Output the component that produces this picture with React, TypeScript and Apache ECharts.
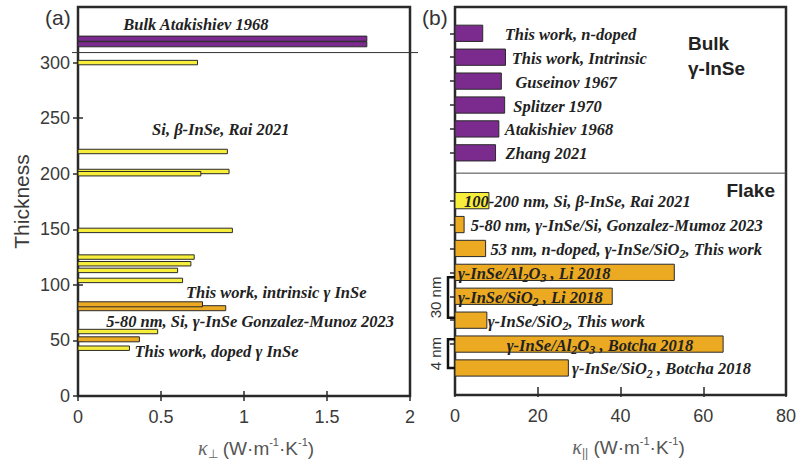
import React, { useEffect, useRef } from "react";
import * as echarts from "echarts";

// ---------- Data: panel (a) ----------
const leftThickness = [321.5, 316.5, 300, 220, 202, 200, 149, 125, 119, 113, 104, 79, 82.5, 58, 51, 43];
const leftKappa = [1.74, 1.74, 0.72, 0.9, 0.91, 0.74, 0.93, 0.7, 0.68, 0.6, 0.63, 0.89, 0.75, 0.48, 0.37, 0.31];
const leftKind = ["bulk", "bulk", "yellow", "yellow", "yellow", "yellow", "yellow", "yellow", "yellow", "yellow", "yellow", "orange", "orange", "yellow", "orange", "yellow"];
const leftSeparator = 309;
const leftNotes = [
  "Bulk Atakishiev 1968",
  "Si, β-InSe, Rai 2021",
  "This work, intrinsic γ InSe",
  "5-80 nm, Si, γ-InSe Gonzalez-Munoz 2023",
  "This work, doped γ InSe",
];
const leftNoteAt = [[0.71, 334], [0.86, 240], [0.65, 93], [0.17, 67], [0.34, 40]];
const leftNoteAlign = ["center", "center", "left", "left", "left"];
const leftXTicks = [0, 0.5, 1, 1.5, 2];
const leftYTicks = [0, 50, 100, 150, 200, 250, 300];

// ---------- Data: panel (b) ----------
const rightSlot = [15, 14, 13, 12, 11, 10, 8, 7, 6, 5, 4, 3, 2, 1];
const rightKappa = [6.7, 12.2, 11.2, 12.0, 10.6, 9.8, 8.2, 2.2, 7.4, 53, 38, 7.7, 64.8, 27.4];
const rightKind = ["bulk", "bulk", "bulk", "bulk", "bulk", "bulk", "yellow", "orange", "orange", "orange", "orange", "orange", "orange", "orange"];
const rightLabels = [
  "{i|This work, n-doped}",
  "{i|This work, Intrinsic}",
  "{i|Guseinov 1967}",
  "{i|Splitzer 1970}",
  "{i|Atakishiev 1968}",
  "{i|Zhang 2021}",
  "{i|100-200 nm, Si, β-InSe, Rai 2021}",
  "{i|5-80 nm, γ-InSe/Si, Gonzalez-Mumoz 2023}",
  "{i|53 nm, n-doped, γ-InSe/SiO}{s|2}{i|, This work}",
  "{i|γ-InSe/Al}{s|2}{i|O}{s|3}{i| , Li 2018}",
  "{i|γ-InSe/SiO}{s|2}{i| , Li 2018}",
  "{i|γ-InSe/SiO}{s|2}{i|, This work}",
  "{i|γ-InSe/Al}{s|2}{i|O}{s|3}{i| , Botcha 2018}",
  "{i|γ-InSe/SiO}{s|2}{i| , Botcha 2018}",
];
const rightLabelAt = [12.0, 13.7, 14.6, 14.1, 12.0, 12.2, 2.2, 3.8, 8.6, 0.7, 0.7, 7.9, 12.5, 28.3];
const rightSeparator = 9.15;
const rightBrackets = [[4.8, 3.1, "30 nm"], [2.2, 1.0, "4 nm"]];
const rightXTicks = [0, 20, 40, 60, 80];
const rightSlotTicks = [1, 2, 3, 4, 5, 6, 7, 8, 10, 11, 12, 13, 14, 15];

// ---------- Styles ----------
const COLORS: Record<string, string> = { bulk: "#7B2A8E", yellow: "#F6EE3A", orange: "#EBAA22" };
const EDGE = "#2a2a2a";
const LEFT_BAR_H: Record<string, number> = { bulk: 4.6, yellow: 4, orange: 4.5 };
const RIGHT_BAR_H = 0.68;
const SERIF = "'Liberation Serif', 'Times New Roman', serif";
const SANS = "'Liberation Sans', Arial, sans-serif";
const NOTE_SIZE = 16.5;

const richLabel = {
  i: { fontFamily: SERIF, fontStyle: "italic", fontWeight: "bold", fontSize: NOTE_SIZE, lineHeight: 22, fill: "#222" },
  s: { fontFamily: SERIF, fontStyle: "italic", fontWeight: "bold", fontSize: 12, lineHeight: 9, verticalAlign: "bottom", fill: "#222" },
};

const axisNameRich = {
  k: { fontFamily: SERIF, fontStyle: "italic", fontSize: 20, color: "#666", lineHeight: 24 },
  s: { fontFamily: SANS, fontSize: 12, color: "#666", verticalAlign: "bottom", lineHeight: 8 },
  t: { fontFamily: SANS, fontSize: 19, color: "#555", lineHeight: 24 },
  p: { fontFamily: SANS, fontSize: 11, color: "#555", verticalAlign: "top", lineHeight: 12 },
};

function buildOption() {
  const tickStyle = { show: true, inside: true, length: 5, lineStyle: { color: EDGE, width: 1.5 } };
  const hiddenLine = { show: false };
  const labelStyle = { fontFamily: SANS, fontSize: 18, color: "#3a3a3a" };

  const leftBarData = leftThickness.map((t, i) => [leftKappa[i], t, leftKind[i]]);
  const rightBarData = rightSlot.map((s, i) => [rightKappa[i], s, rightKind[i]]);

  return {
    animation: false,
    backgroundColor: "#ffffff",
    grid: [
      { left: 78, top: 7, width: 332, height: 389, show: true, borderColor: EDGE, borderWidth: 2.5, backgroundColor: "transparent", containLabel: false, outerBoundsMode: "none" },
      { left: 455, top: 7, width: 331, height: 388, show: true, borderColor: EDGE, borderWidth: 2.5, backgroundColor: "transparent", containLabel: false, outerBoundsMode: "none" },
    ],
    xAxis: [
      {
        gridIndex: 0, type: "value", min: 0, max: 2, interval: 0.5, position: "bottom",
        axisLine: hiddenLine, splitLine: { show: false },
        axisTick: { ...tickStyle, customValues: leftXTicks },
        axisLabel: { ...labelStyle, margin: 12, customValues: leftXTicks },
        name: "{k|κ}{s|⊥}{t| (W·m}{p|-1}{t|·K}{p|-1}{t|)}",
        nameLocation: "middle", nameGap: 40,
        nameTextStyle: { rich: axisNameRich, verticalAlign: "top", padding: [0, 0, 0, 24] },
      },
      {
        gridIndex: 0, type: "value", min: 0, max: 2, interval: 0.5, position: "top",
        axisLine: hiddenLine, splitLine: { show: false }, axisLabel: { show: false },
        axisTick: { ...tickStyle, customValues: leftXTicks },
      },
      {
        gridIndex: 1, type: "value", min: 0, max: 80, interval: 20, position: "bottom",
        axisLine: hiddenLine, splitLine: { show: false },
        axisTick: { ...tickStyle, customValues: rightXTicks },
        axisLabel: { ...labelStyle, margin: 12, customValues: rightXTicks },
        name: "{k|κ}{s|||}{t| (W·m}{p|-1}{t|·K}{p|-1}{t|)}",
        nameLocation: "middle", nameGap: 40,
        nameTextStyle: { rich: axisNameRich, verticalAlign: "top", padding: [0, 0, 0, 16] },
      },
      {
        gridIndex: 1, type: "value", min: 0, max: 80, interval: 20, position: "top",
        axisLine: hiddenLine, splitLine: { show: false }, axisLabel: { show: false },
        axisTick: { ...tickStyle, customValues: rightXTicks },
      },
    ],
    yAxis: [
      {
        gridIndex: 0, type: "value", min: 0, max: 350, interval: 50, position: "left",
        axisLine: hiddenLine, splitLine: { show: false },
        axisTick: { ...tickStyle, customValues: leftYTicks },
        axisLabel: { ...labelStyle, margin: 8, customValues: leftYTicks },
        name: "Thickness", nameLocation: "middle", nameGap: 46,
        nameTextStyle: { fontFamily: SANS, fontSize: 21, color: "#3a3a3a" },
      },
      {
        gridIndex: 0, type: "value", min: 0, max: 350, interval: 50, position: "right",
        axisLine: hiddenLine, splitLine: { show: false }, axisLabel: { show: false },
        axisTick: { ...tickStyle, customValues: leftYTicks },
      },
      {
        gridIndex: 1, type: "value", min: -0.13, max: 16.1, position: "left",
        axisLine: hiddenLine, splitLine: { show: false }, axisLabel: { show: false },
        axisTick: { ...tickStyle, length: 4, customValues: rightSlotTicks },
      },
      {
        gridIndex: 1, type: "value", min: -0.13, max: 16.1, position: "right",
        axisLine: hiddenLine, splitLine: { show: false }, axisLabel: { show: false },
        axisTick: { ...tickStyle, customValues: rightSlotTicks },
      },
    ],
    graphic: [
      { type: "text", x: 45, y: 17, style: { text: "(a)", fontFamily: SANS, fontSize: 21, fill: "#333", verticalAlign: "middle" } },
      { type: "text", x: 422, y: 17, style: { text: "(b)", fontFamily: SANS, fontSize: 21, fill: "#333", verticalAlign: "middle" } },
      { type: "text", x: 688, y: 43, style: { text: "Bulk", fontFamily: SANS, fontWeight: "bold", fontSize: 19, fill: "#222", verticalAlign: "middle" } },
      { type: "text", x: 688, y: 68, style: { text: "γ-InSe", fontFamily: SANS, fontWeight: "bold", fontSize: 19, fill: "#222", verticalAlign: "middle" } },
      { type: "text", x: 775, y: 190, style: { text: "Flake", fontFamily: SANS, fontWeight: "bold", fontSize: 19, fill: "#222", align: "right", verticalAlign: "middle" } },
    ],
    series: [
      {
        type: "custom", xAxisIndex: 0, yAxisIndex: 0, data: leftBarData, z: 3,
        renderItem: (params: any, api: any) => {
          const kind = leftKind[params.dataIndex];
          const p0 = api.coord([0, api.value(1)]);
          const p1 = api.coord([api.value(0), api.value(1)]);
          const h = api.size([0, LEFT_BAR_H[kind]])[1];
          return {
            type: "rect",
            shape: { x: p0[0], y: p0[1] - h / 2, width: p1[0] - p0[0], height: h },
            style: { fill: COLORS[kind], stroke: EDGE, lineWidth: 1 },
          };
        },
      },
      {
        type: "custom", xAxisIndex: 0, yAxisIndex: 0, data: [[0, leftSeparator]], z: 4,
        renderItem: (params: any, api: any) => {
          const p0 = api.coord([0, api.value(1)]);
          const p1 = api.coord([2, api.value(1)]);
          return {
            type: "line",
            shape: { x1: p0[0] - 6, y1: p0[1], x2: p1[0] + 8, y2: p1[1] },
            style: { stroke: "#333", lineWidth: 1 },
          };
        },
      },
      {
        type: "custom", xAxisIndex: 0, yAxisIndex: 0, data: leftNoteAt, z: 5,
        renderItem: (params: any, api: any) => {
          const i = params.dataIndex;
          const p = api.coord([api.value(0), api.value(1)]);
          return {
            type: "text", x: p[0], y: p[1],
            style: {
              text: leftNotes[i], fontFamily: SERIF, fontStyle: "italic", fontWeight: "bold",
              fontSize: NOTE_SIZE, fill: "#222", align: leftNoteAlign[i], verticalAlign: "middle",
            },
          };
        },
      },
      {
        type: "custom", xAxisIndex: 2, yAxisIndex: 2, data: rightBarData, z: 3,
        renderItem: (params: any, api: any) => {
          const i = params.dataIndex;
          const kind = rightKind[i];
          const s = api.value(1);
          const p0 = api.coord([0, s]);
          const p1 = api.coord([api.value(0), s]);
          const h = api.size([0, RIGHT_BAR_H])[1];
          const lp = api.coord([rightLabelAt[i], s]);
          return {
            type: "group",
            children: [
              {
                type: "rect",
                shape: { x: p0[0], y: p0[1] - h / 2, width: p1[0] - p0[0], height: h },
                style: { fill: COLORS[kind], stroke: EDGE, lineWidth: 1 },
              },
              {
                type: "text", x: lp[0], y: lp[1] + 1, z2: 10,
                style: { text: rightLabels[i], rich: richLabel, align: "left", verticalAlign: "middle" },
              },
            ],
          };
        },
      },
      {
        type: "custom", xAxisIndex: 2, yAxisIndex: 2, data: [[0, rightSeparator]], z: 4,
        renderItem: (params: any, api: any) => {
          const p0 = api.coord([0, api.value(1)]);
          const p1 = api.coord([80, api.value(1)]);
          return {
            type: "line",
            shape: { x1: p0[0], y1: p0[1], x2: p1[0], y2: p1[1] },
            style: { stroke: "#444", lineWidth: 1 },
          };
        },
      },
      {
        type: "custom", xAxisIndex: 2, yAxisIndex: 2, data: rightBrackets.map((b) => [b[0], b[1]]), z: 4,
        renderItem: (params: any, api: any) => {
          const i = params.dataIndex;
          const top = api.coord([0, api.value(0)]);
          const bot = api.coord([0, api.value(1)]);
          const x = top[0] - 7;
          return {
            type: "group",
            children: [
              {
                type: "polyline",
                shape: { points: [[top[0], top[1]], [x, top[1]], [x, bot[1]], [bot[0], bot[1]]] },
                style: { stroke: "#111", lineWidth: 2.5, fill: null },
              },
              {
                type: "text", x: x - 13, y: (top[1] + bot[1]) / 2, rotation: Math.PI / 2,
                style: {
                  text: rightBrackets[i][2] as string, fontFamily: SANS, fontSize: 15, fill: "#333",
                  align: "center", verticalAlign: "middle",
                },
              },
            ],
          };
        },
      },
    ],
  };
}

export default function App() {
  const ref = useRef<HTMLDivElement>(null);
  useEffect(() => {
    if (!ref.current) return;
    const chart = echarts.init(ref.current, undefined, { renderer: "svg" });
    chart.setOption(buildOption() as any);
    return () => chart.dispose();
  }, []);
  return (
    <div
      ref={ref}
      style={{ position: "absolute", left: 0, top: 0, width: 798, height: 469, background: "#fff" }}
    />
  );
}
